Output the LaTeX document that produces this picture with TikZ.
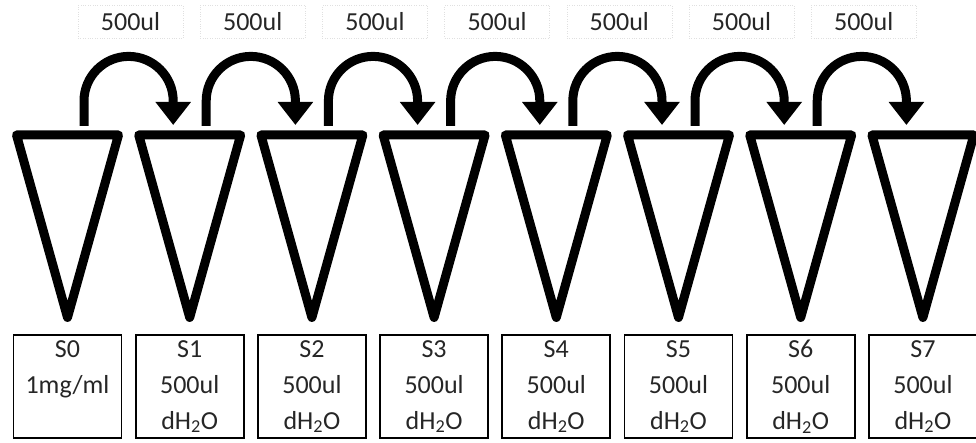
\documentclass[tikz,border=0pt]{standalone}
\usepackage{fontspec}
\setmainfont{Carlito}
\usetikzlibrary{arrows.meta,calc}
\begin{document}
\begin{tikzpicture}[x=1pt,y=1pt,
  tube/.style={line width=9pt,line join=round},
  transfer/.style={line width=9pt,-{Triangle[width=34pt,length=23pt]}},
  vol/.style={draw=black!12,dotted,minimum width=105pt,minimum height=33pt,inner sep=0pt,text=black!85,font=\fontsize{26}{30}\selectfont},
  sample/.style={draw,line width=1.8pt,minimum width=108pt,minimum height=103pt,inner sep=0pt,align=center,text=black!85,font=\fontsize{26}{36}\selectfont}]
\useasboundingbox (0,0) rectangle (976,443);
\foreach \i in {0,...,7}{
  \pgfmathsetmacro{\c}{67.5+122.2*\i}
  \coordinate (t\i) at (\c,308);
  \coordinate (tip\i) at (\c,125.5);
  \draw[tube] ($(t\i)+(-51,0)$) -- ($(t\i)+(51,0)$) -- (tip\i) -- cycle;
}
\node[sample] (b0) at (67.5,56.5) {S0\\1mg/ml\\\phantom{dH\textsubscript{2}O}};
\foreach \i in {1,...,7}{
  \pgfmathsetmacro{\c}{67.5+122.2*\i}
  \node[sample] (b\i) at (\c,56.5) {S\i\\500ul\\dH\textsubscript{2}O};
}
\foreach \i [evaluate=\i as \j using int(\i+1)] in {0,...,6}{
  \pgfmathsetmacro{\c}{67.5+122.2*\i+63}
  \node[vol] (v\i) at (\c,421.5) {500ul};
  \draw[transfer] ([xshift=16.5pt,yshift=9pt]t\i) -- ([xshift=16.5pt,yshift=34pt]t\i)
     arc[start angle=180,end angle=0,radius=44.6pt] -- ([xshift=-16.5pt,yshift=10pt]t\j);
}
\end{tikzpicture}
\end{document}
